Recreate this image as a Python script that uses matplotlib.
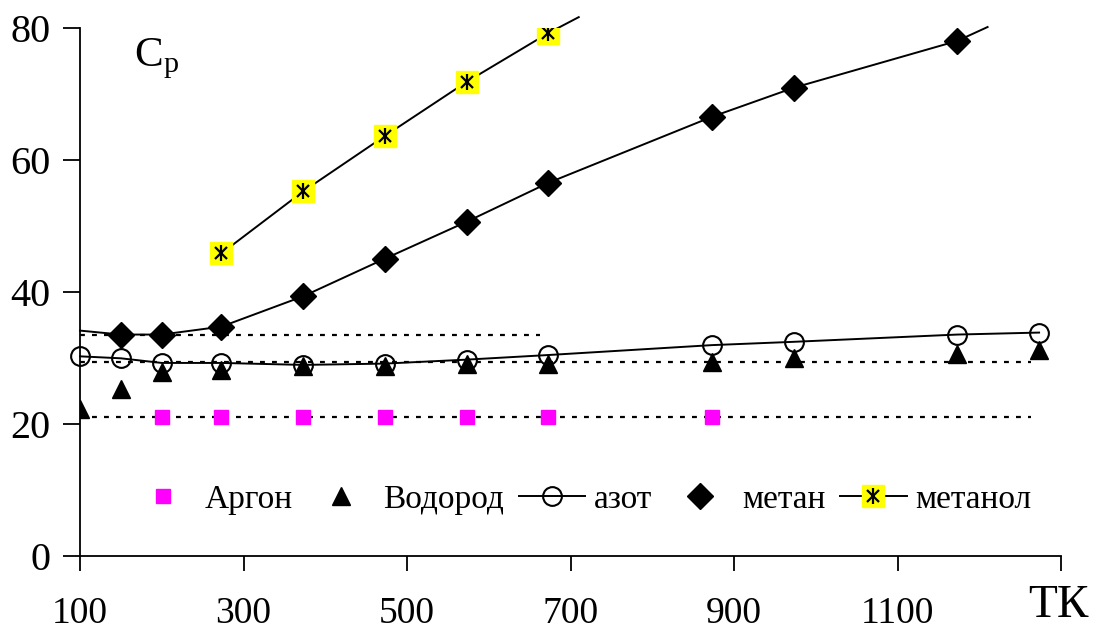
import matplotlib.pyplot as plt
from matplotlib.legend_handler import HandlerTuple

plt.rcParams['font.family'] = ['Liberation Serif', 'DejaVu Serif']

# temperatures, K
T_ar = [200, 273, 373, 473, 573, 673, 873]
cp_ar = [21.1, 21.1, 21.1, 21.1, 21.1, 21.1, 21.1]

T_h2 = [100, 150, 200, 273, 373, 473, 573, 673, 873, 973, 1173, 1273]
cp_h2 = [22.3, 25.3, 27.9, 28.3, 28.8, 28.9, 29.1, 29.1, 29.5, 30.1, 30.6, 31.2]

T_n2 = [100, 150, 200, 273, 373, 473, 573, 673, 873, 973, 1173, 1273]
cp_n2 = [30.3, 30.0, 29.3, 29.3, 29.0, 29.2, 29.8, 30.5, 32.0, 32.5, 33.6, 33.9]

T_ch4 = [150, 200, 273, 373, 473, 573, 673, 873, 973, 1173]
cp_ch4 = [33.5, 33.5, 34.8, 39.4, 45.1, 50.7, 56.6, 66.6, 71.0, 78.1]
T_ch4_line = [100, 150, 200, 273, 373, 473, 573, 673, 873, 973, 1173, 1210]
cp_ch4_line = [34.2, 33.6, 33.6, 34.8, 39.4, 45.1, 50.7, 56.6, 66.6, 71.0, 78.1, 80.2]

T_meoh = [273, 373, 473, 573, 673]
cp_meoh = [45.9, 55.3, 63.7, 71.9, 79.3]
T_meoh_line = [273, 373, 473, 573, 673, 710]
cp_meoh_line = [45.9, 55.3, 63.7, 71.9, 79.3, 81.7]

# reference levels (dotted)
ref_levels = [21.1, 29.4, 33.6]
ref_ends = [1263, 1263, 663]

fig = plt.figure(figsize=(11, 6.3), dpi=100)
ax = fig.add_axes([0.0727, 0.117, 0.892, 0.838])

for lev, end in zip(ref_levels, ref_ends):
    ax.plot([100, end], [lev, lev], color='black', lw=1.6, ls=(0, (2.2, 3.2)), zorder=1)

ax.plot(T_ch4_line, cp_ch4_line, color='black', lw=1.4, clip_on=False, zorder=2)
ax.plot(T_meoh_line, cp_meoh_line, color='black', lw=1.4, clip_on=False, zorder=2)

h_ar, = ax.plot(T_ar, cp_ar, ls='none', marker='s', ms=10.5, color='#ff00ff', mec='#ff00ff', zorder=3)
h_h2, = ax.plot(T_h2, cp_h2, ls='none', marker='^', ms=13, color='black', zorder=4)
h_n2, = ax.plot(T_n2, cp_n2, color='black', lw=1.4, marker='o', ms=13.5, mfc='none',
                mec='black', mew=1.5, zorder=3, clip_on=False)
h_ch4, = ax.plot(T_ch4, cp_ch4, ls='none', marker='D', ms=13, color='black', zorder=4)
h_me1, = ax.plot(T_meoh, cp_meoh, ls='none', marker='s', ms=16, color='#ffff00', mec='#ffff00', zorder=4)
h_me2, = ax.plot(T_meoh, cp_meoh, ls='none', marker='|', ms=12, color='black', mew=1.6, zorder=5)
h_me3, = ax.plot(T_meoh, cp_meoh, ls='none', marker='x', ms=9, color='black', mew=1.6, zorder=5)

ax.set_xlim(100, 1300)
ax.set_ylim(0, 80)
ax.set_xticks([100, 300, 500, 700, 900, 1100, 1300])
ax.set_xticklabels(['100', '300', '500', '700', '900', '1100', ''])
ax.set_yticks([0, 20, 40, 60, 80])
ax.tick_params(axis='x', direction='out', length=11, width=1.3, pad=18, labelsize=27)
ax.tick_params(axis='y', direction='out', length=12, width=1.3, pad=9, labelsize=29)
for s in ['top', 'right']:
    ax.spines[s].set_visible(False)
for s in ['left', 'bottom']:
    ax.spines[s].set_linewidth(1.3)

ax.text(0.055, 0.985, r'C$_{\mathregular{p}}$', transform=ax.transAxes, fontsize=31, va='top', ha='left')
fig.text(0.935, 0.038, 'ТК', fontsize=34, ha='left', va='center')

leg_me_line, = ax.plot([], [], color='black', lw=1.4)
ax.legend([h_ar, h_h2, h_n2, h_ch4, (leg_me_line, h_me1, h_me2, h_me3)],
          ['Аргон', 'Водород', 'азот', 'метан', 'метанол'],
          handler_map={tuple: HandlerTuple(ndivide=1)},
          ncol=5, loc='center', bbox_to_anchor=(0.51, 0.108), frameon=False,
          fontsize=24, handlelength=2.0, columnspacing=0.45, handletextpad=0.25)

fig.savefig('out.png', dpi=100)
